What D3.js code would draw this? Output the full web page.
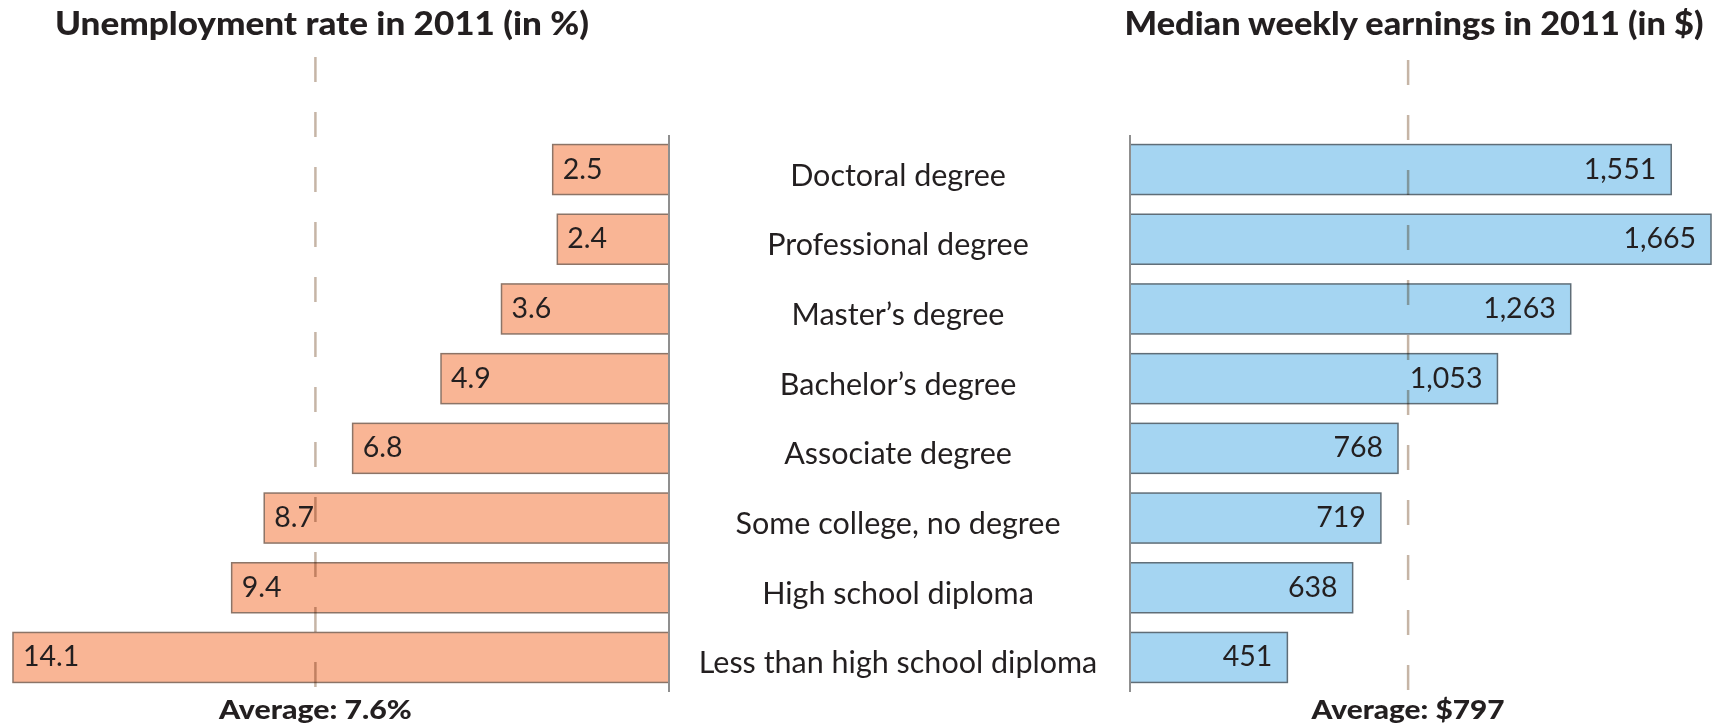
<!DOCTYPE html>
<html>
<head>
<meta charset="utf-8">
<script src="https://cdn.jsdelivr.net/npm/d3@7"></script>
<style>
  html, body { margin: 0; padding: 0; background: #ffffff; }
  svg { display: block; }
  text { font-family: Lato, "Open Sans", sans-serif; fill: #231f20; }
</style>
</head>
<body>
<svg id="chart" width="1729" height="726"></svg>
<script>
// ---- data ----
const categories = [
  "Doctoral degree",
  "Professional degree",
  "Master\u2019s degree",
  "Bachelor\u2019s degree",
  "Associate degree",
  "Some college, no degree",
  "High school diploma",
  "Less than high school diploma"
];
const unemploymentRate = [2.5, 2.4, 3.6, 4.9, 6.8, 8.7, 9.4, 14.1];
const weeklyEarnings = [1551, 1665, 1263, 1053, 768, 719, 638, 451];
const averageUnemployment = 7.6;
const averageEarnings = 797;
const titles = ["Unemployment rate in 2011 (in %)", "Median weekly earnings in 2011 (in $)"];
const averageLabels = ["Average: 7.6%", "Average: $797"];

// ---- layout ----
const svg = d3.select("#chart");
const axisTop = 135, axisBottom = 692;
const leftAxisX = 669, rightAxisX = 1130;

const y = d3.scaleBand()
  .domain(categories)
  .range([axisTop, axisBottom])
  .paddingInner(0.283)
  .paddingOuter(0.137);

const xLeft = d3.scaleLinear().domain([0, d3.max(unemploymentRate)]).range([leftAxisX, 13]);
const xRight = d3.scaleLinear().domain([0, d3.max(weeklyEarnings)]).range([rightAxisX, 1711]);

const orangeFill = "#f9b595", orangeStroke = "#8c7467";
const blueFill = "#a5d5f2", blueStroke = "#5f6d77";

// ---- left bars ----
const left = svg.append("g");
left.selectAll("rect")
  .data(unemploymentRate)
  .join("rect")
  .attr("x", d => xLeft(d))
  .attr("y", (d, i) => y(categories[i]))
  .attr("width", d => xLeft(0) - xLeft(d))
  .attr("height", y.bandwidth())
  .attr("fill", orangeFill)
  .attr("stroke", orangeStroke)
  .attr("stroke-width", 1.5);

left.selectAll("text")
  .data(unemploymentRate)
  .join("text")
  .attr("x", d => xLeft(d) + 10)
  .attr("y", (d, i) => y(categories[i]) + y.bandwidth() / 2 + 9)
  .attr("font-size", 28.5)
  .text(d => d3.format(".1f")(d));

// ---- right bars ----
const right = svg.append("g");
right.selectAll("rect")
  .data(weeklyEarnings)
  .join("rect")
  .attr("x", xRight(0))
  .attr("y", (d, i) => y(categories[i]))
  .attr("width", d => xRight(d) - xRight(0))
  .attr("height", y.bandwidth())
  .attr("fill", blueFill)
  .attr("stroke", blueStroke)
  .attr("stroke-width", 1.5);

right.selectAll("text")
  .data(weeklyEarnings)
  .join("text")
  .attr("x", d => xRight(d) - 15)
  .attr("y", (d, i) => y(categories[i]) + y.bandwidth() / 2 + 9)
  .attr("text-anchor", "end")
  .attr("font-size", 28.5)
  .text(d => d3.format(",")(d));

// ---- axis lines ----
[leftAxisX, rightAxisX].forEach(x => {
  svg.append("line")
    .attr("x1", x).attr("x2", x)
    .attr("y1", axisTop).attr("y2", axisBottom)
    .attr("stroke", "#8f8f8f")
    .attr("stroke-width", 2);
});

// ---- category labels ----
svg.append("g").selectAll("text")
  .data(categories)
  .join("text")
  .attr("x", 898)
  .attr("y", d => y(d) + y.bandwidth() / 2 + 16)
  .attr("text-anchor", "middle")
  .attr("font-size", 30.5)
  .text(d => d);

// ---- average dashed lines, labels and titles ----
const avgX = [xLeft(averageUnemployment), xRight(averageEarnings)];
const dashStart = [57, 60];
const titleCenter = [322, 1414];
const titleWidth = [534, 579];
avgX.forEach((x, i) => {
  svg.append("line")
    .attr("x1", x).attr("x2", x)
    .attr("y1", dashStart[i]).attr("y2", 692)
    .attr("stroke", "#c6b5a6")
    .attr("stroke-width", 2.5)
    .attr("stroke-dasharray", "25 30")
    .style("mix-blend-mode", "multiply");

  svg.append("text")
    .attr("x", x)
    .attr("y", 719)
    .attr("text-anchor", "middle")
    .attr("font-size", 27)
    .attr("font-weight", 900)
    .attr("textLength", 193)
    .attr("lengthAdjust", "spacingAndGlyphs")
    .text(averageLabels[i]);

  svg.append("text")
    .attr("x", titleCenter[i])
    .attr("y", 35)
    .attr("text-anchor", "middle")
    .attr("font-size", 32)
    .attr("font-weight", 900)
    .attr("textLength", titleWidth[i])
    .attr("lengthAdjust", "spacingAndGlyphs")
    .text(titles[i]);
});
</script>
</body>
</html>
